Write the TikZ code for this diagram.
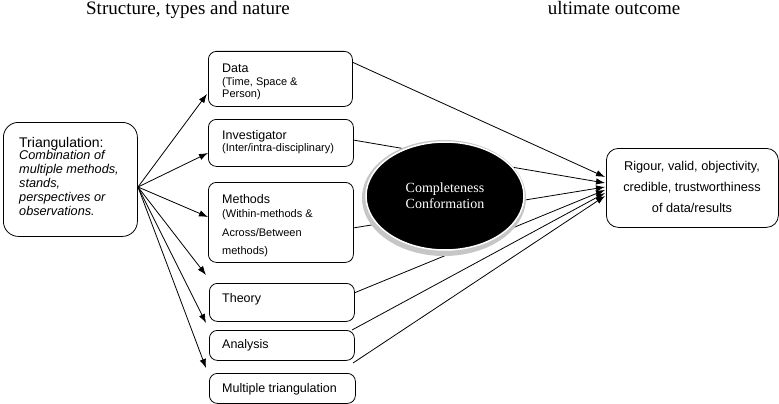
\documentclass[tikz,border=0pt]{standalone}
\usepackage{fontspec}
\setmainfont{Liberation Serif}
\setsansfont{Liberation Sans}
\usetikzlibrary{arrows.meta,shapes.geometric}
\tikzset{
  box/.style={draw, rounded corners=8pt, line width=0.8pt, inner sep=0pt, anchor=north west},
  lbl/.style={font=\sffamily\fontsize{12.5}{14}\selectfont, anchor=base west, inner sep=0pt},
  sub/.style={font=\sffamily\fontsize{11}{12}\selectfont, anchor=base west, inner sep=0pt},
  itl/.style={font=\sffamily\itshape\fontsize{12.7}{14}\selectfont, anchor=base west, inner sep=0pt},
  ttl/.style={font=\fontsize{19}{21}\selectfont, anchor=base, inner sep=0pt},
  outl/.style={font=\sffamily\fontsize{12.75}{14}\selectfont, anchor=base, inner sep=0pt},
  elt/.style={font=\fontsize{14}{16}\selectfont, text=white, anchor=base, inner sep=0pt},
  arr/.style={line width=0.8pt, -{Latex[length=9pt,width=6.5pt]}},
}
\begin{document}
\begin{tikzpicture}[x=1pt,y=-1pt]
\useasboundingbox (0,0) rectangle (779,404);
% titles
\node[ttl] (t1) at (188,15) {Structure, types and nature};
\node[ttl] (t2) at (614,15) {ultimate outcome};
% boxes
\node[box, rounded corners=15pt, minimum width=134pt, minimum height=114pt] (tri) at (3,122) {};
\node[box, minimum width=144pt, minimum height=55pt] (data) at (208,51) {};
\node[box, minimum width=145pt, minimum height=47pt] (inv) at (208,119) {};
\node[box, minimum width=145pt, minimum height=80pt] (meth) at (208,182) {};
\node[box, minimum width=145pt, minimum height=38pt] (theo) at (209,283) {};
\node[box, minimum width=145pt, minimum height=30pt] (anal) at (209,330) {};
\node[box, minimum width=146pt, minimum height=30pt] (mult) at (209,373) {};
\node[box, rounded corners=12pt, minimum width=172pt, minimum height=79pt] (out) at (606,148) {};
% texts
\node[lbl, font=\sffamily\fontsize{14}{16}\selectfont] (triA) at (19,147) {Triangulation:};
\node[itl] (triB) at (19,159.5) {Combination of};
\node[itl] (triC) at (19,173.5) {multiple methods,};
\node[itl] (triD) at (19,187) {stands,};
\node[itl] (triE) at (19,201.5) {perspectives or};
\node[itl] (triF) at (19,215.5) {observations.};
\node[lbl] (dataA) at (222,72.5) {Data};
\node[sub] (dataB) at (222,85.5) {(Time, Space \&};
\node[sub] (dataC) at (222,97.5) {Person)};
\node[lbl] (invA) at (222,139.5) {Investigator};
\node[sub] (invB) at (222,151) {(Inter/intra-disciplinary)};
\node[lbl] (methA) at (222,203.5) {Methods};
\node[sub] (methB) at (222,217) {(Within-methods \&};
\node[sub] (methC) at (222,236) {Across/Between};
\node[sub] (methD) at (222,254) {methods)};
\node[lbl] (theoA) at (222,302.5) {Theory};
\node[lbl] (analA) at (222,348.5) {Analysis};
\node[lbl] (multA) at (222,392.5) {Multiple triangulation};
\node[outl] (outA) at (692,170.5) {Rigour, valid, objectivity,};
\node[outl] (outB) at (692,191) {credible, trustworthiness};
\node[outl] (outC) at (692,212) {of data/results};
% arrows from triangulation
\coordinate (src) at (138,187);
\coordinate (tData) at (207,94);
\coordinate (tInv) at (208,153);
\coordinate (tMeth) at (208,217);
\coordinate (tTheo) at (206,275);
\coordinate (tAnal) at (206,323);
\coordinate (tMult) at (206,368);
\foreach \t in {tData,tInv,tMeth,tTheo,tAnal,tMult} \draw[arr] (src) -- (\t);
% lines to outcome
\coordinate (sData) at (352,62);
\coordinate (sInv) at (353,140);
\coordinate (sMeth) at (353,228);
\coordinate (sTheo) at (354,293);
\coordinate (sAnal) at (352,330);
\coordinate (sMult) at (353,363);
\coordinate (eData) at (605,177);
\coordinate (eInv) at (605,183);
\coordinate (eMeth) at (605,187);
\coordinate (eTheo) at (605,190);
\coordinate (eAnal) at (605,193);
\coordinate (eMult) at (605,196);
\draw[arr] (sData) -- (eData);
\draw[arr] (sInv) -- (eInv);
\draw[arr] (sMeth) -- (eMeth);
\draw[arr] (sTheo) -- (eTheo);
\draw[arr] (sAnal) -- (eAnal);
\draw[arr] (sMult) -- (eMult);
% ellipse
\fill[gray!45] (444,198) ellipse [x radius=82pt, y radius=58pt];
\node[ellipse, fill=black, draw=white, line width=1.5pt, minimum width=158pt, minimum height=108pt, inner sep=0pt] (ell) at (445,196) {};
\node[elt] (ellA) at (445,192) {Completeness};
\node[elt] (ellB) at (445,208) {Conformation};
\end{tikzpicture}
\end{document}
